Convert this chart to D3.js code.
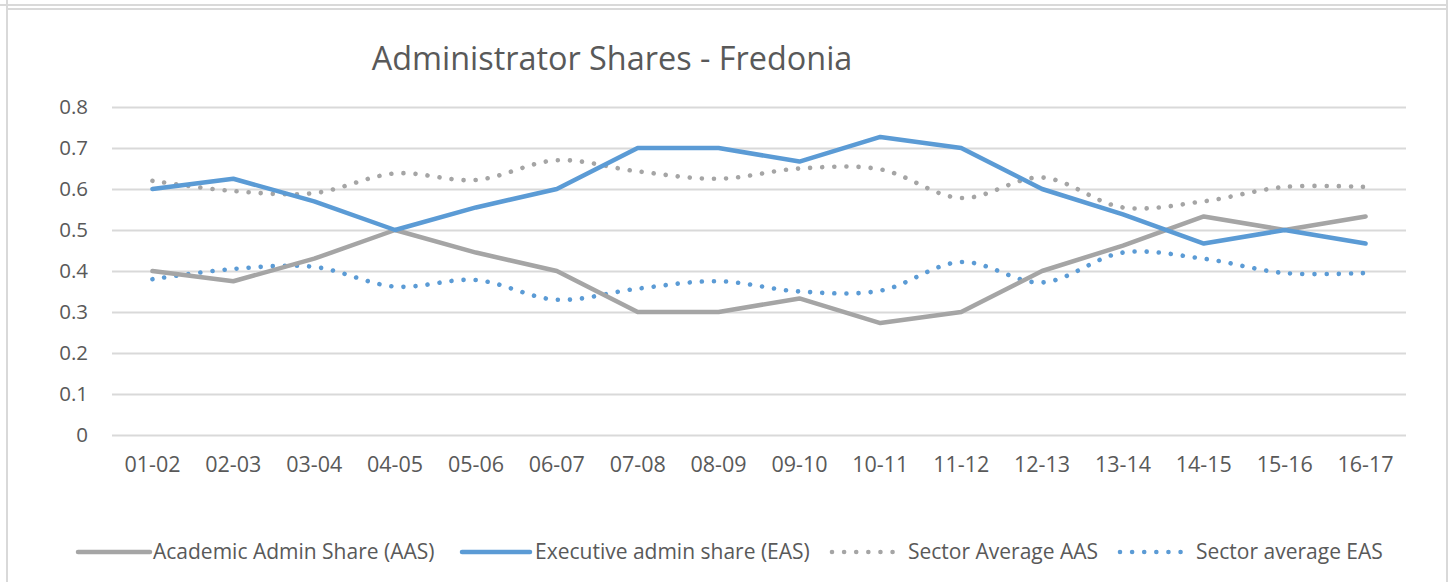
<!DOCTYPE html>
<html><head><meta charset="utf-8">
<script src="https://cdn.jsdelivr.net/npm/d3@7"></script>
<style>
html,body{margin:0;padding:0;background:#fff;}
svg{display:block;font-family:"Open Sans",sans-serif;}
</style></head>
<body>
<svg id="c" width="1453" height="582"></svg>
<script>
const categories = ["01-02","02-03","03-04","04-05","05-06","06-07","07-08","08-09","09-10","10-11","11-12","12-13","13-14","14-15","15-16","16-17"];
const aas = [0.40,0.375,0.43,0.50,0.445,0.40,0.30,0.30,0.333,0.273,0.30,0.40,0.462,0.533,0.50,0.533];
const eas = [0.60,0.625,0.57,0.50,0.555,0.60,0.70,0.70,0.667,0.727,0.70,0.60,0.538,0.467,0.50,0.467];
const sectorAas = [0.62,0.595,0.59,0.638,0.622,0.67,0.643,0.625,0.65,0.648,0.578,0.628,0.555,0.57,0.605,0.605];
const sectorEas = [0.38,0.405,0.41,0.362,0.378,0.33,0.357,0.375,0.35,0.352,0.422,0.372,0.445,0.43,0.395,0.395];
const yTicks = [0,0.1,0.2,0.3,0.4,0.5,0.6,0.7,0.8];
const seriesNames = ["Academic Admin Share (AAS)","Executive admin share (EAS)","Sector Average AAS","Sector average EAS"];

const GRAY = "#a5a5a5", BLUE = "#5b9bd5", TXT = "#595959", GRID = "#d9d9d9";
const svg = d3.select("#c");

// frame
svg.append("line").attr("x1",0).attr("x2",1448).attr("y1",5).attr("y2",5).attr("stroke",GRID).attr("stroke-width",2);
svg.append("line").attr("x1",7).attr("x2",1447).attr("y1",9).attr("y2",9).attr("stroke",GRID).attr("stroke-width",2);
svg.append("line").attr("x1",7).attr("x2",7).attr("y1",0).attr("y2",582).attr("stroke",GRID).attr("stroke-width",2);
svg.append("line").attr("x1",1447).attr("x2",1447).attr("y1",0).attr("y2",582).attr("stroke",GRID).attr("stroke-width",2);

const x = d3.scaleBand().domain(categories).range([112,1406]);
const y = d3.scaleLinear().domain([0,0.8]).range([435,107]);
const cx = c => x(c) + x.bandwidth()/2;

// title
svg.append("text").attr("x",612).attr("y",70).attr("text-anchor","middle")
  .attr("font-size",32.4).attr("fill",TXT).text("Administrator Shares - Fredonia");

// grid
const yAxis = d3.axisLeft(y).tickValues(yTicks).tickFormat(d3.format("")).tickSize(-(1406-112)).tickPadding(24);
const gy = svg.append("g").attr("transform","translate(112,0)").call(yAxis);
gy.select(".domain").remove();
gy.selectAll(".tick line").attr("stroke",GRID).attr("stroke-width",2);
gy.selectAll(".tick text").attr("fill",TXT).attr("font-size",20.5).attr("font-family","Open Sans");

const xAxis = d3.axisBottom(x).tickSize(0).tickPadding(22);
const gx = svg.append("g").attr("transform","translate(0,435)").call(xAxis);
gx.select(".domain").remove();
gx.selectAll(".tick text").attr("fill",TXT).attr("font-size",21.5).attr("font-family","Open Sans");

const series = [
  {name: seriesNames[0], values: aas, color: GRAY, dotted: false},
  {name: seriesNames[1], values: eas, color: BLUE, dotted: false},
  {name: seriesNames[2], values: sectorAas, color: GRAY, dotted: true},
  {name: seriesNames[3], values: sectorEas, color: BLUE, dotted: true}
];

const lineStraight = d3.line().x((d,i)=>cx(categories[i])).y(d=>y(d));
const lineSmooth = d3.line().x((d,i)=>cx(categories[i])).y(d=>y(d)).curve(d3.curveCatmullRom.alpha(0.5));

[2,3,0,1].forEach(k=>{
  const s = series[k];
  const p = svg.append("path").datum(s.values)
    .attr("fill","none").attr("stroke",s.color)
    .attr("stroke-linecap","round").attr("stroke-linejoin","round");
  if (s.dotted) {
    p.attr("d",lineSmooth).attr("stroke-width",4.6).attr("stroke-dasharray","0.01 12.1");
  } else {
    p.attr("d",lineStraight).attr("stroke-width",4.5);
  }
});

// legend
const legendItems = [
  {x0:78, x1:150, tx:153},
  {x0:462, x1:530, tx:535},
  {x0:832, x1:900, tx:908},
  {x0:1120, x1:1188, tx:1196}
];
const lg = svg.append("g");
series.forEach((s,i)=>{
  const it = legendItems[i];
  const ly = 552;
  lg.append("line").attr("x1",it.x0).attr("x2",it.x1).attr("y1",ly).attr("y2",ly)
    .attr("stroke",s.color).attr("stroke-width",s.dotted?4.6:4.5).attr("stroke-linecap","round")
    .attr("stroke-dasharray",s.dotted?"0.01 12.1":null);
  lg.append("text").attr("x",it.tx).attr("y",ly).attr("dy","0.35em")
    .attr("font-size",21).attr("fill",TXT).text(s.name);
});
</script>
</body></html>
